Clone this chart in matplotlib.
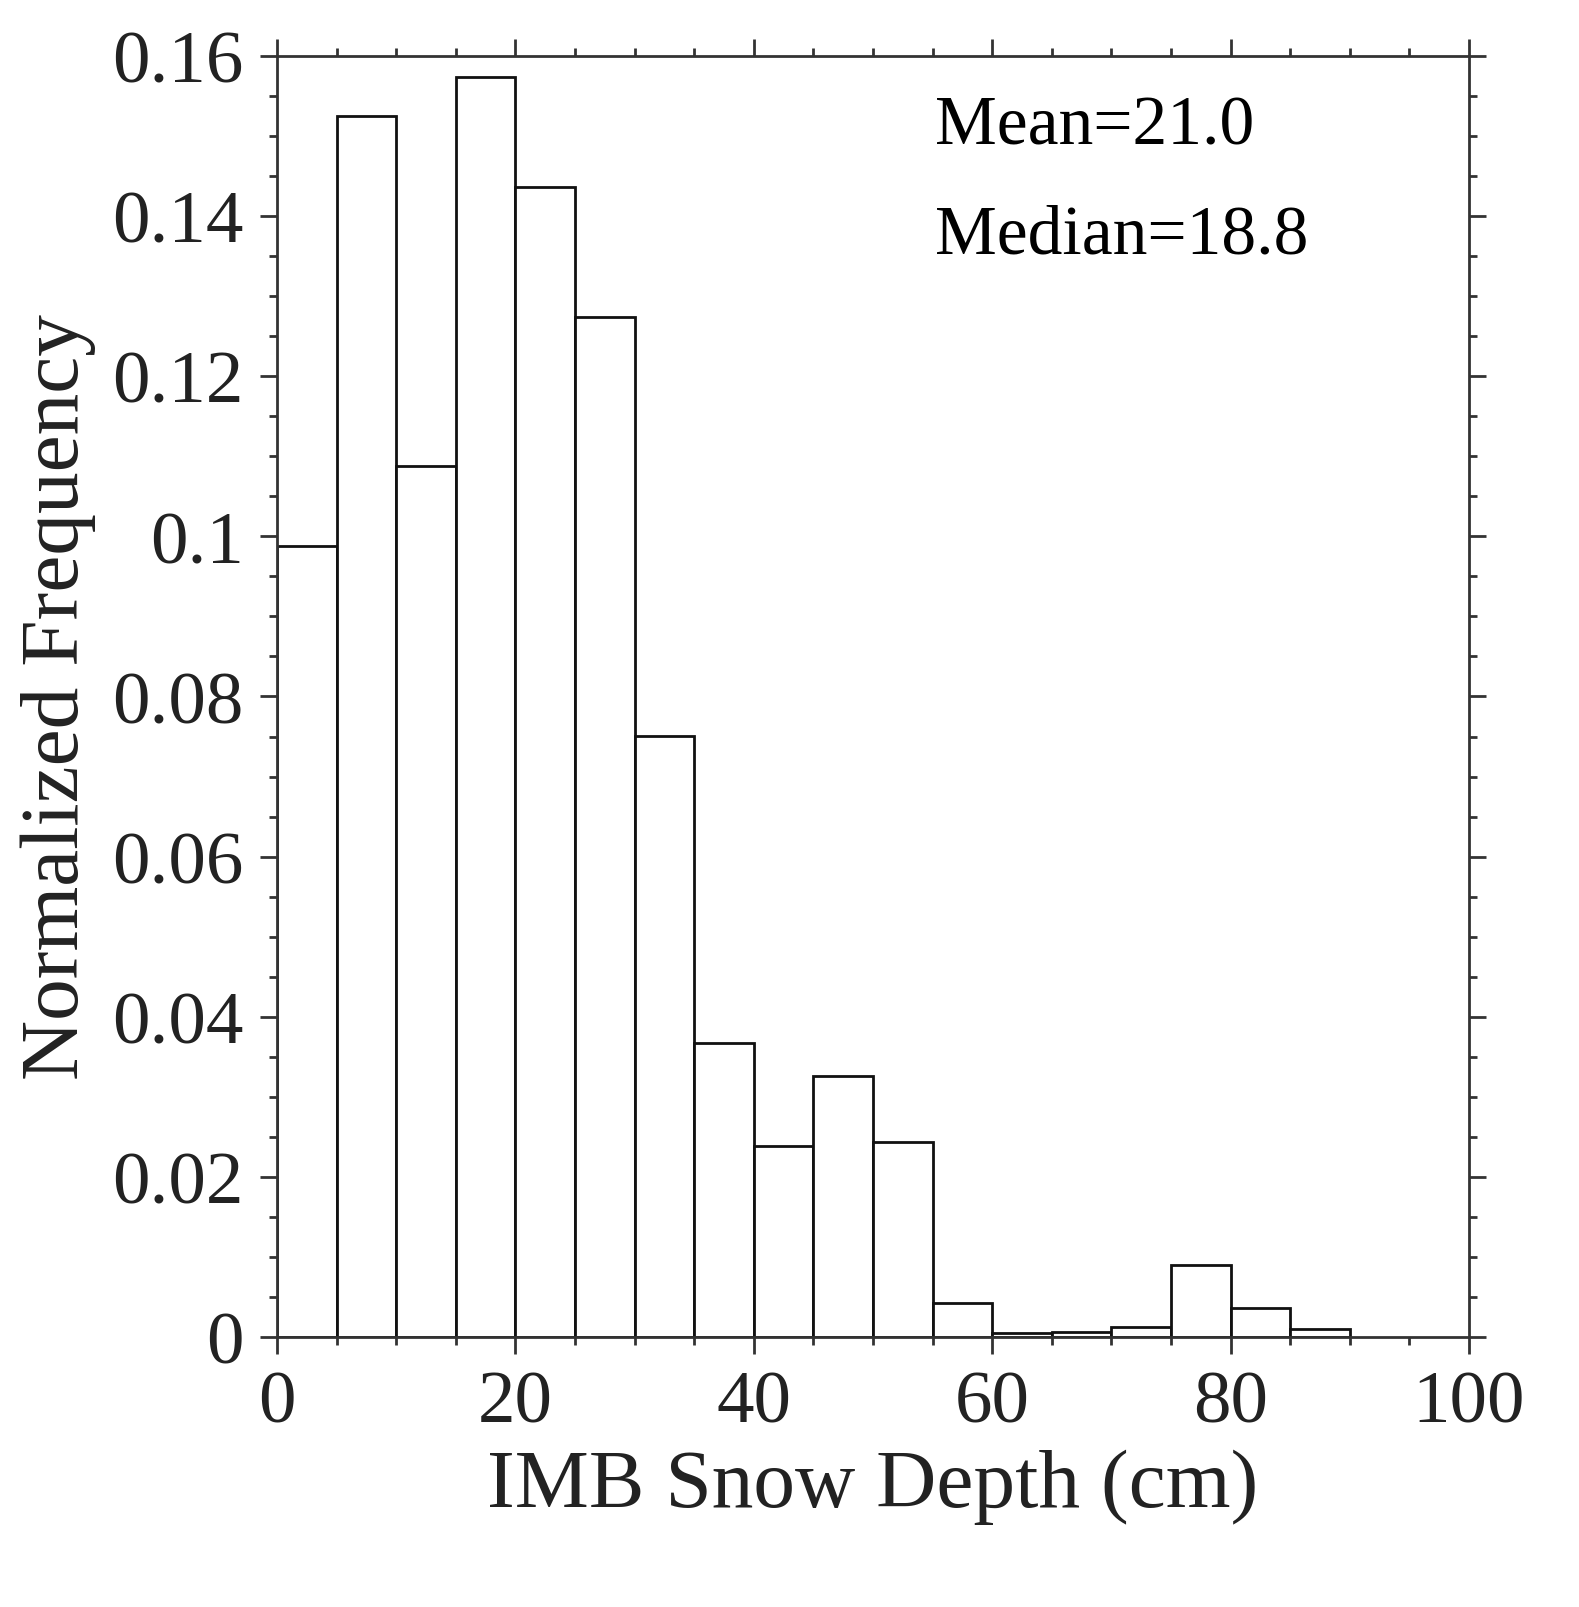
import matplotlib
matplotlib.use("Agg")
import matplotlib.pyplot as plt
import matplotlib.ticker as ticker
import numpy as np

bin_edges = np.arange(0, 95, 5)
freq = [0.0988, 0.1525, 0.1088, 0.1574, 0.1436, 0.1274, 0.0751, 0.0367, 0.0239,
        0.0326, 0.0244, 0.0042, 0.0005, 0.0006, 0.0012, 0.0090, 0.0036, 0.0010]
stats_text = ["Mean=21.0", "Median=18.8"]

plt.rcParams["font.family"] = "Liberation Serif"

fig = plt.figure(figsize=(15.79, 16.08), dpi=100)
ax = fig.add_axes([0.1754, 0.1679, 0.9303 - 0.1754, 0.9646 - 0.1679])

ax.bar(bin_edges[:-1], freq, width=5, align="edge", facecolor="white",
       edgecolor="#111111", linewidth=2)

ax.set_xlim(0, 100)
ax.set_ylim(0, 0.16)
ax.xaxis.set_major_locator(ticker.MultipleLocator(20))
ax.xaxis.set_minor_locator(ticker.MultipleLocator(5))
ax.yaxis.set_major_locator(ticker.MultipleLocator(0.02))
ax.yaxis.set_minor_locator(ticker.MultipleLocator(0.005))
ax.yaxis.set_major_formatter(ticker.FuncFormatter(
    lambda v, p: "0" if v == 0 else ("0.1" if abs(v - 0.1) < 1e-9 else f"{v:.2f}")))

for s in ax.spines.values():
    s.set_linewidth(2)
    s.set_color("#333333")
ax.tick_params(which="both", direction="out", top=True, right=True, color="#333333")
ax.tick_params(which="major", length=12, width=2, labelsize=54, pad=12,
               labelcolor="#222222")
ax.tick_params(which="minor", length=6, width=2)

ax.set_xlabel("IMB Snow Depth (cm)", fontsize=60, color="#222222", labelpad=8)
ax.set_ylabel("Normalized Frequency", fontsize=60, color="#222222", labelpad=12)

ax.text(0.552, 0.945, stats_text[0], transform=ax.transAxes, fontsize=50, va="center")
ax.text(0.552, 0.86, stats_text[1], transform=ax.transAxes, fontsize=50, va="center")

fig.savefig("out.png", dpi=100)
